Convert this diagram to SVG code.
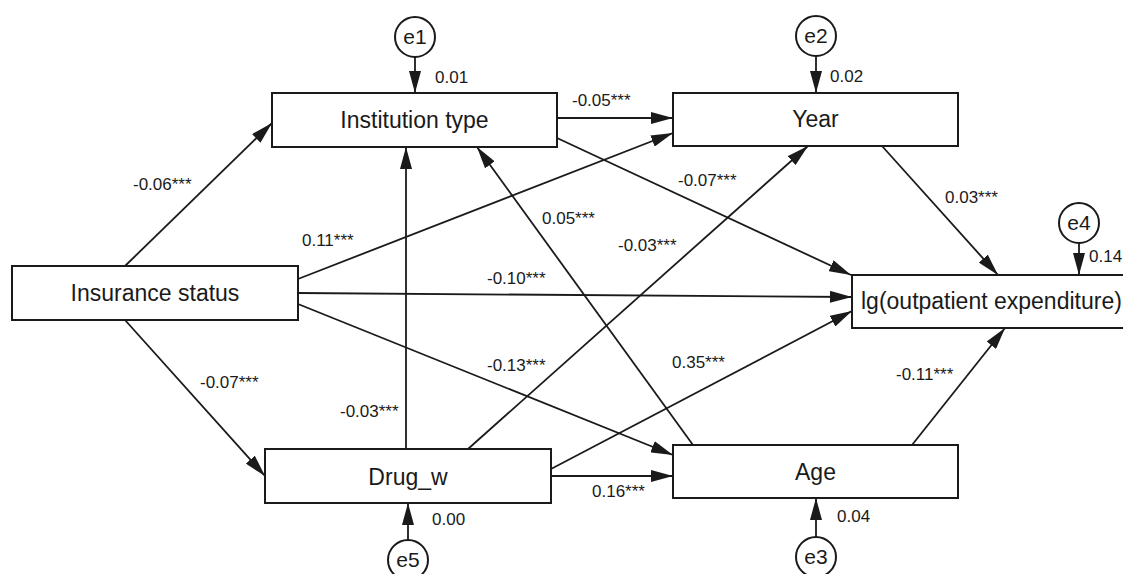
<svg xmlns="http://www.w3.org/2000/svg" width="1123" height="574" viewBox="0 0 1123 574">
<style>
.box{fill:#fff;stroke:#1a1a1a;stroke-width:2}
.err{fill:#fff;stroke:#1a1a1a;stroke-width:2}
.nt{font-family:"Liberation Sans",Arial,sans-serif;font-size:23px;fill:#1a1a1a;text-anchor:middle}
.et{font-family:"Liberation Sans",Arial,sans-serif;font-size:21px;fill:#1a1a1a;text-anchor:middle}
.lb{font-family:"Liberation Sans",Arial,sans-serif;font-size:17px;fill:#1a1a1a}
.edge{stroke:#1a1a1a;stroke-width:1.8;fill:none;marker-end:url(#arr)}
</style>
<defs>
<marker id="arr" markerUnits="userSpaceOnUse" viewBox="0 0 22 12" refX="22" refY="6" markerWidth="22" markerHeight="12" orient="auto">
<path d="M0,0 L22,6 L0,12 z" fill="#1a1a1a"/>
</marker>
</defs>
<rect width="1123" height="574" fill="#fff"/>
<g id="connectors">
<line class="edge" x1="125" y1="266" x2="272" y2="123"/>
<line class="edge" x1="125" y1="320" x2="265" y2="476"/>
<line class="edge" x1="298" y1="279" x2="673" y2="133"/>
<line class="edge" x1="298" y1="293" x2="852" y2="297"/>
<line class="edge" x1="298" y1="304" x2="673" y2="455"/>
<line class="edge" x1="557" y1="118" x2="673" y2="118"/>
<line class="edge" x1="557" y1="138" x2="851" y2="275"/>
<line class="edge" x1="882" y1="146" x2="998" y2="275"/>
<line class="edge" x1="406" y1="449" x2="406" y2="147"/>
<line class="edge" x1="468" y1="449" x2="808" y2="146"/>
<line class="edge" x1="551" y1="469" x2="852" y2="311"/>
<line class="edge" x1="551" y1="476" x2="673" y2="476"/>
<line class="edge" x1="693" y1="445" x2="477" y2="147"/>
<line class="edge" x1="912" y1="445" x2="1005" y2="328"/>
<line class="edge" x1="415" y1="57" x2="415" y2="93"/>
<line class="edge" x1="816" y1="56" x2="816" y2="93"/>
<line class="edge" x1="1079" y1="243" x2="1079" y2="275"/>
<line class="edge" x1="408" y1="540" x2="408" y2="503"/>
<line class="edge" x1="816" y1="537" x2="816" y2="498"/>
</g>
<g id="labels">
<text class="lb" x="133" y="190">-0.06***</text>
<text class="lb" x="200" y="388">-0.07***</text>
<text class="lb" x="302" y="246">0.11***</text>
<text class="lb" x="487" y="284">-0.10***</text>
<text class="lb" x="487" y="371">-0.13***</text>
<text class="lb" x="572" y="106">-0.05***</text>
<text class="lb" x="678" y="186">-0.07***</text>
<text class="lb" x="945" y="203">0.03***</text>
<text class="lb" x="340" y="417">-0.03***</text>
<text class="lb" x="618" y="251">-0.03***</text>
<text class="lb" x="672" y="368">0.35***</text>
<text class="lb" x="592" y="497">0.16***</text>
<text class="lb" x="542" y="224">0.05***</text>
<text class="lb" x="896" y="380">-0.11***</text>
<text class="lb" x="435" y="83">0.01</text>
<text class="lb" x="830" y="82">0.02</text>
<text class="lb" x="1089" y="262">0.14</text>
<text class="lb" x="432" y="525">0.00</text>
<text class="lb" x="837" y="522">0.04</text>
</g>
<g id="insurance"><rect class="box" x="12" y="266" width="286" height="54"/><text class="nt" x="155" y="301">Insurance status</text></g>
<g id="institution"><rect class="box" x="272" y="93" width="285" height="54"/><text class="nt" x="414.5" y="128">Institution type</text></g>
<g id="year"><rect class="box" x="673" y="93" width="285" height="53"/><text class="nt" x="815.5" y="127">Year</text></g>
<g id="lg"><rect class="box" x="852" y="275" width="290" height="53"/><text class="nt" x="861" y="309" style="text-anchor:start">lg(outpatient expenditure)</text></g>
<g id="drug"><rect class="box" x="265" y="449" width="286" height="54"/><text class="nt" x="408" y="485">Drug_w</text></g>
<g id="age"><rect class="box" x="673" y="445" width="285" height="53"/><text class="nt" x="815.5" y="480">Age</text></g>
<g id="e1"><circle class="err" cx="415" cy="37" r="20"/><text class="et" x="415" y="44">e1</text></g>
<g id="e2"><circle class="err" cx="816" cy="36" r="20"/><text class="et" x="816" y="43">e2</text></g>
<g id="e4"><circle class="err" cx="1079" cy="223" r="20"/><text class="et" x="1079" y="230">e4</text></g>
<g id="e5"><circle class="err" cx="408" cy="560" r="20"/><text class="et" x="408" y="567">e5</text></g>
<g id="e3"><circle class="err" cx="816" cy="557" r="20"/><text class="et" x="816" y="564">e3</text></g>
</svg>
